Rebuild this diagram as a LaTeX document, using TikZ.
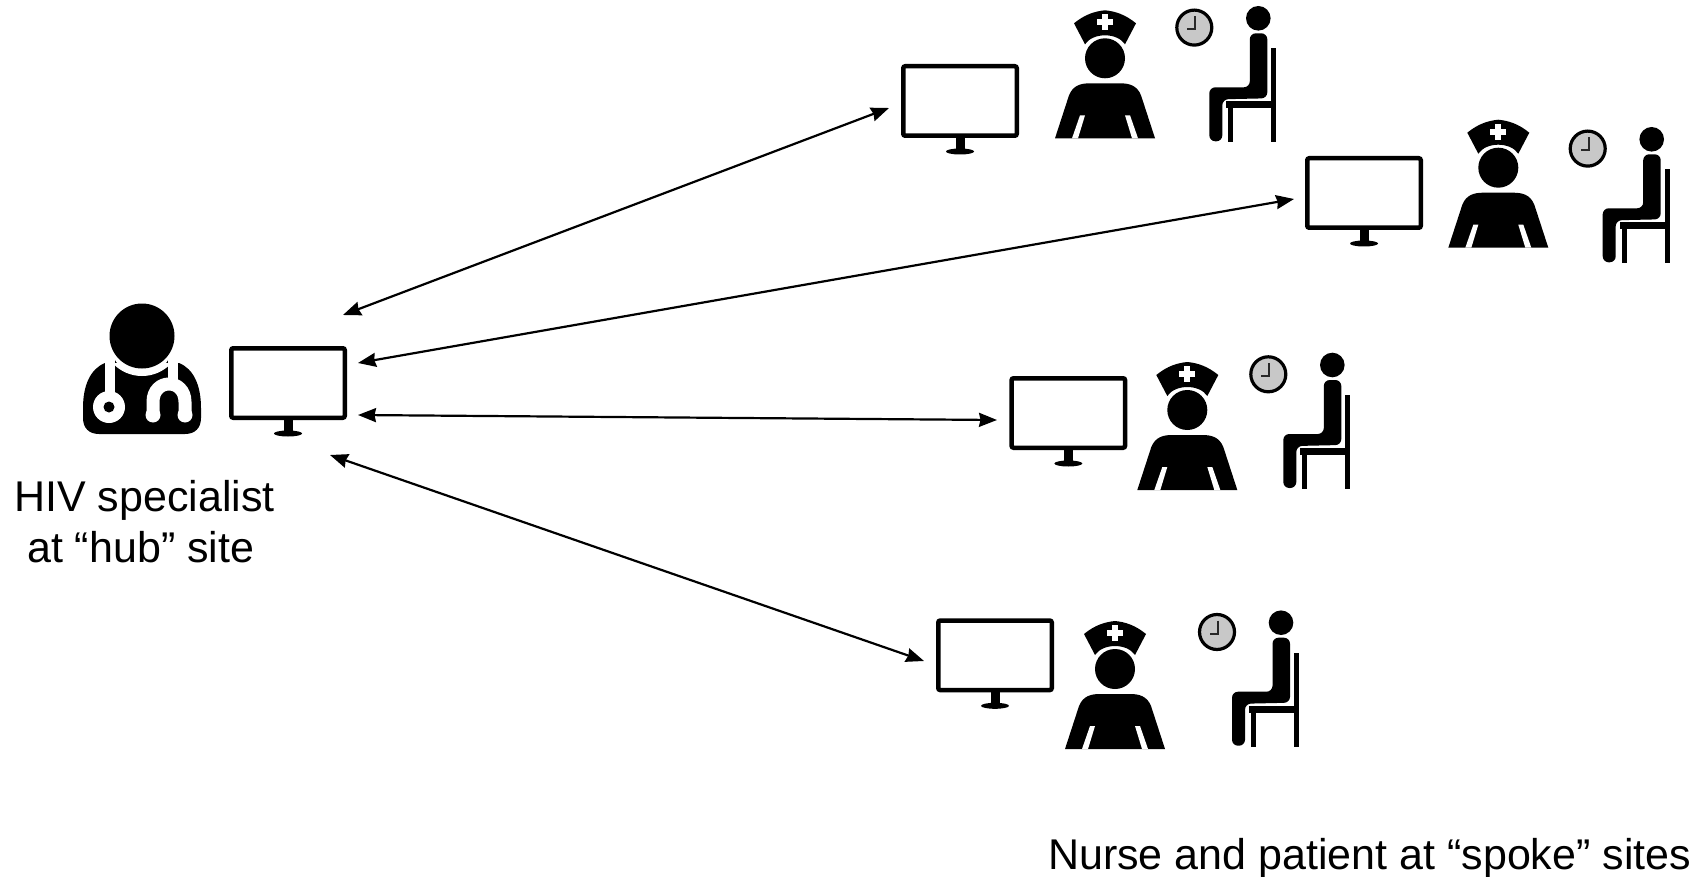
\documentclass[tikz,border=0pt]{standalone}
\usepackage{fontspec}
\setmainfont{Liberation Sans}
\usepackage{xcolor}
\usetikzlibrary{arrows.meta, positioning}
\definecolor{clockgray}{RGB}{200, 200, 200}
\definecolor{clockdark}{RGB}{40, 40, 40}

\tikzset{
  screenbox/.style={draw, line width=4.5pt, fill=white, rounded corners=2pt, inner sep=0pt, minimum width=113.5pt, minimum height=69.5pt},
  linkarrow/.style={line width=2.2pt, {Stealth[length=18pt,width=14pt,inset=1.5pt]}-{Stealth[length=18pt,width=14pt,inset=1.5pt]}},
  sitelabel/.style={font=\fontsize{43}{50}\selectfont, anchor=base west, inner sep=0pt},
  monitor/.pic={
    \fill (54.5,72) rectangle (63.5,88);
    \fill (59,87.5) ellipse [x radius=14, y radius=3];
    \node[screenbox] (screen) at (59,37) {};
  },
  doctor/.pic={
    \fill (-37,27) .. controls (-52,33) and (-59,50) .. (-59,72) -- (-59,82) .. controls (-59,92) and (-53,98) .. (-43,98)
      -- (43,98) .. controls (53,98) and (59,92) .. (59,82) -- (59,72) .. controls (59,50) and (52,33) .. (37,27) -- cycle;
    \fill[white] (0,0) circle [radius=40];
    \fill (-27,0) rectangle (26,27);
    \fill[white] (-27,10) .. controls (-15,36) and (15,36) .. (26,10) -- (26,24) .. controls (15,44) and (-15,44) .. (-27,24) -- cycle;
    \fill (0,0) circle [radius=32.5];
    \fill[white] (-37,27) rectangle (-27,60);
    \fill[white] (26,27) rectangle (36,48);
    \fill[white] (-33,71) circle [radius=16];
    \fill (-33,71) circle [radius=5.5];
    \draw[white, line width=13pt] (11,78) -- (11,66) .. controls (11,42) and (43,42) .. (43,66) -- (43,78);
    \fill[white] (11,79) circle [radius=7.5];
    \fill[white] (43,79) circle [radius=7.5];
  },
  nurse/.pic={
    \fill (-31,-35) .. controls (-20,-44) and (-10,-47) .. (0,-48) .. controls (10,-47) and (20,-44) .. (31,-35)
      -- (20,-14) .. controls (12,-26) and (-12,-26) .. (-20,-14) -- cycle;
    \fill[white] (-8,-39) rectangle (8,-33);
    \fill[white] (-3,-44) rectangle (3,-28);
    \fill (0,0) circle [radius=20];
    \fill (-50,80) -- (-36,37) .. controls (-32,27) and (-24,25) .. (-15,25) -- (15,25) .. controls (24,25) and (32,27) .. (36,37) -- (50,80) -- cycle;
    \fill[white] (-25,57) -- (-20,57) -- (-27,80) -- (-33,80) -- cycle;
    \fill[white] (20,57) -- (25,57) -- (33,80) -- (27,80) -- cycle;
  },
  patient/.pic={
    \fill (0,0) circle [radius=12.3];
    \fill[rounded corners=6pt] (-8.5,15) -- (9,15) -- (9,80) -- (-36,81) -- (-36,123) -- (-49,123) -- (-49,69) -- (-8.5,69) -- cycle;
    \fill (13,30) rectangle (18,124);
    \fill (-32,83) rectangle (18,90);
    \fill (-30,85) rectangle (-25,124);
    \draw[line width=3.2pt, fill=clockgray] (-64,9.3) circle [radius=17.5];
    \draw[line width=1.8pt, clockdark] (-63,-2) -- (-63,11) -- (-71,11);
  }
}

\begin{document}
\begin{tikzpicture}[x=1pt, y=-1pt]
\useasboundingbox (0,0) rectangle (1696,877);

% hub site
\pic at (142,336) {doctor};
\pic (hub) at (229,346) {monitor};
\node[sitelabel] (hubtext) at (14,511) {HIV specialist};
\node[sitelabel] (hubtextb) at (27,562) {at “hub” site};

% spoke sites
\pic (spokeA) at (901,64) {monitor};
\pic at (1105,58.3) {nurse};
\pic at (1258.3,18.3) {patient};

\pic (spokeB) at (1305,156) {monitor};
\pic at (1498.3,167.7) {nurse};
\pic at (1651.7,139.3) {patient};

\pic (spokeC) at (1009.3,376) {monitor};
\pic at (1187.3,410) {nurse};
\pic at (1332.3,365) {patient};

\pic (spokeD) at (936,618.3) {monitor};
\pic at (1115,669) {nurse};
\pic at (1281,622.7) {patient};

\node[sitelabel] (spoketext) at (1048,869) {Nurse and patient at “spoke” sites};

% links
\coordinate (hubA) at (343,315);
\coordinate (hubB) at (358,363);
\coordinate (hubC) at (358,415);
\coordinate (hubD) at (330,455);
\coordinate (endA) at (889,108);
\coordinate (endB) at (1294,199);
\coordinate (endC) at (997,420);
\coordinate (endD) at (924,661);
\draw[linkarrow] (hubA) -- (endA);
\draw[linkarrow] (hubB) -- (endB);
\draw[linkarrow] (hubC) -- (endC);
\draw[linkarrow] (hubD) -- (endD);
\end{tikzpicture}
\end{document}
